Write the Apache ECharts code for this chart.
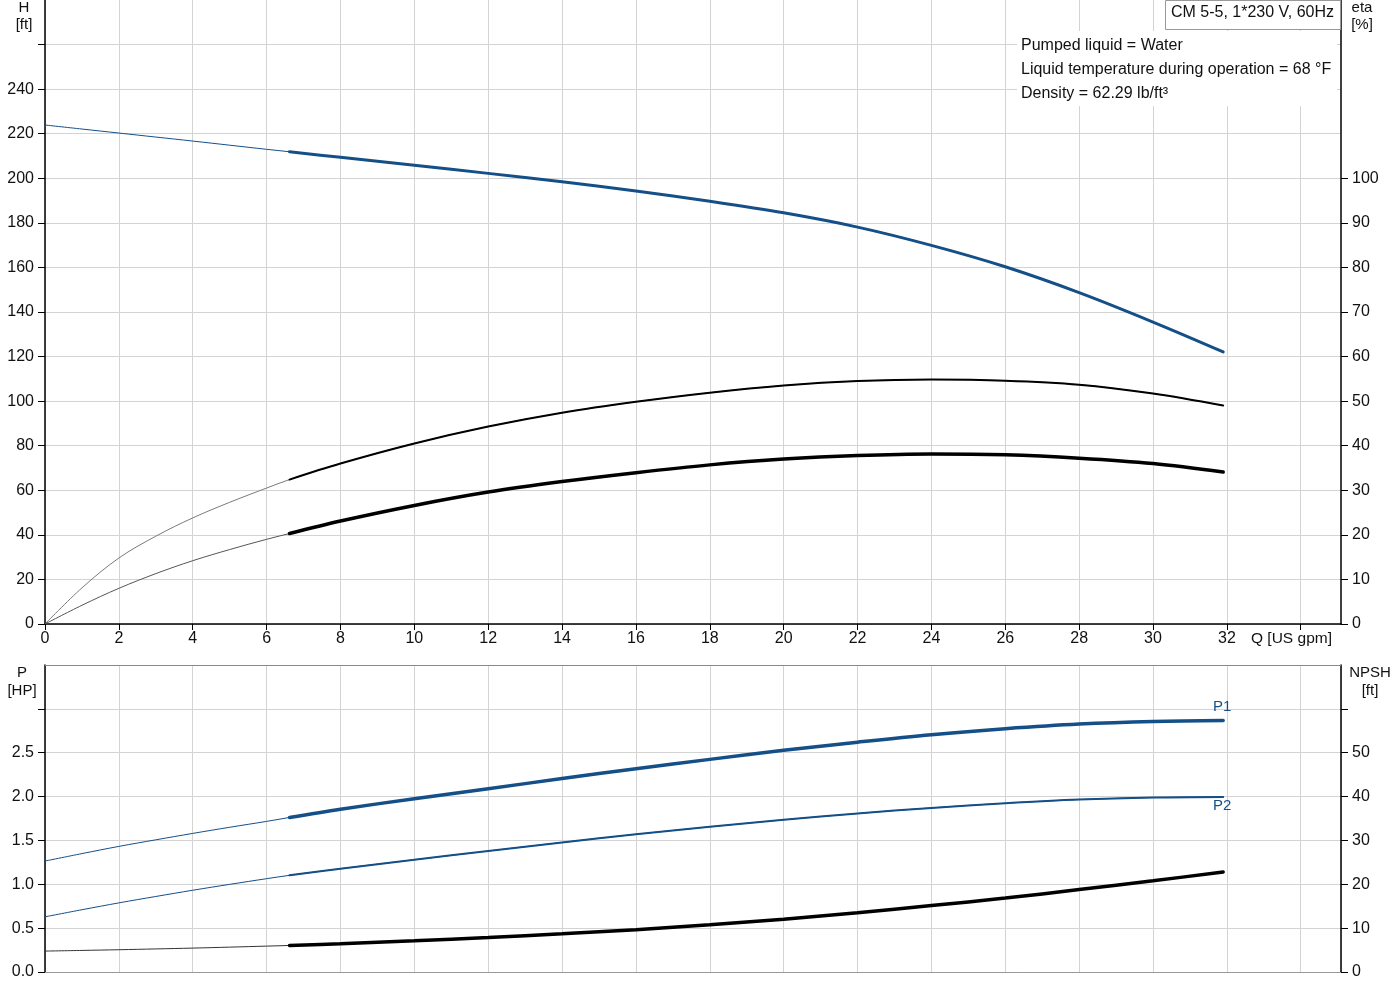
<!DOCTYPE html>
<html>
<head>
<meta charset="utf-8">
<script src="https://cdn.jsdelivr.net/npm/echarts@6/dist/echarts.min.js"></script>
<style>
html,body{margin:0;padding:0;background:#fff;}
#chart{width:1400px;height:1000px;}
</style>
</head>
<body>
<div id="chart"></div>
<script>
// Flow rate Q [US gpm] sample points (shared by all curves)
const flowQ = [0, 1, 2, 3, 4, 5, 6, 6.62, 8, 10, 12, 14, 16, 18, 20, 22, 24, 26, 28, 30, 31.9];
// Index where the thick (operating range) part of each curve begins
const splitIndex = 7;

// Head H [ft]
const headH = [223.9, 222.1, 220.3, 218.5, 216.7, 214.85, 213.0, 211.9, 209.4, 205.8, 202.2, 198.4, 194.3, 189.7, 184.5, 178.1, 169.9, 160.3, 148.7, 135.5, 122.1];
// Efficiency curves eta [%]
const etaUpper = [0, 8.1, 14.8, 19.7, 23.8, 27.3, 30.5, 32.4, 36.0, 40.5, 44.3, 47.4, 49.85, 51.9, 53.5, 54.5, 54.85, 54.6, 53.7, 51.7, 49.0];
const etaLower = [0, 4.2, 8.0, 11.3, 14.2, 16.7, 19.0, 20.3, 23.1, 26.6, 29.6, 31.95, 33.95, 35.7, 37.0, 37.8, 38.15, 37.95, 37.2, 36.0, 34.1];
// Power P [HP]
const powerP1 = [1.265, 1.35, 1.432, 1.507, 1.58, 1.65, 1.717, 1.762, 1.856, 1.975, 2.09, 2.205, 2.318, 2.424, 2.527, 2.62, 2.705, 2.773, 2.826, 2.856, 2.867];
const powerP2 = [0.629, 0.71, 0.788, 0.861, 0.932, 0.999, 1.064, 1.102, 1.178, 1.28, 1.379, 1.477, 1.570, 1.655, 1.735, 1.807, 1.871, 1.924, 1.966, 1.989, 1.996];
// NPSH [ft]
const npsh = [4.77, 4.92, 5.08, 5.26, 5.45, 5.67, 5.9, 6.05, 6.45, 7.1, 7.85, 8.7, 9.65, 10.75, 12.05, 13.5, 15.15, 16.85, 18.8, 20.8, 22.8];

// Axis tick labels
const qLabels = [0, 2, 4, 6, 8, 10, 12, 14, 16, 18, 20, 22, 24, 26, 28, 30, 32];
const qTicks = [0, 2, 4, 6, 8, 10, 12, 14, 16, 18, 20, 22, 24, 26, 28, 30, 32, 34];
const hLabels = [0, 20, 40, 60, 80, 100, 120, 140, 160, 180, 200, 220, 240];
const hTicks = [0, 20, 40, 60, 80, 100, 120, 140, 160, 180, 200, 220, 240, 260];
const etaLabels = [0, 10, 20, 30, 40, 50, 60, 70, 80, 90, 100];
const pLabels = [0, 0.5, 1.0, 1.5, 2.0, 2.5];
const pTicks = [0, 0.5, 1.0, 1.5, 2.0, 2.5, 3.0];
const npshLabels = [0, 10, 20, 30, 40, 50];
const npshTicks = [0, 10, 20, 30, 40, 50, 60];

// Texts
const pumpTitle = 'CM 5-5, 1*230 V, 60Hz';
const infoLines = ['Pumped liquid = Water', 'Liquid temperature during operation = 68 °F', 'Density = 62.29 lb/ft³'];

const BLUE = '#144f88';
const GRID = '#d3d3d3';
const FONT = '"Liberation Sans", Arial, sans-serif';

function pairs(vals, from, to) {
  const out = [];
  for (let i = from; i <= to; i++) out.push([flowQ[i], vals[i]]);
  return out;
}
function thinPart(vals) { return pairs(vals, 0, flowQ.length - 1); }
function thickPart(vals) { return pairs(vals, splitIndex, flowQ.length - 1); }
function line(name, xi, yi, data, color, width, z, endLabel) {
  const s = {
    name, type: 'line', xAxisIndex: xi, yAxisIndex: yi, data,
    smooth: 0.35, symbol: 'none', showSymbol: false, silent: true,
    lineStyle: { color, width, cap: 'round' }, itemStyle: { color },
    animation: false, z: z || 3
  };
  if (endLabel) {
    s.endLabel = Object.assign({ show: true, color: BLUE, fontSize: 15, fontFamily: FONT, align: 'center', distance: 0 }, endLabel);
  }
  return s;
}

const labelStyle = { color: '#111', fontSize: 16, fontFamily: FONT };
const blackLine = { show: true, lineStyle: { color: '#000', width: 1.5 } };

const chart = echarts.init(document.getElementById('chart'), null, { renderer: 'canvas' });
const option = {
  backgroundColor: '#fff',
  animation: false,
  grid: [
    { left: 45, right: 59, top: 0, height: 624, containLabel: false },
    { left: 45, right: 59, top: 665, height: 307, containLabel: false }
  ],
  xAxis: [
    {
      gridIndex: 0, type: 'value', min: 0, max: 35.09, interval: 2,
      axisLine: blackLine,
      axisTick: { show: true, length: 6, lineStyle: { color: '#000' }, customValues: qTicks },
      axisLabel: Object.assign({ margin: 7, customValues: qLabels }, labelStyle),
      splitLine: { show: true, lineStyle: { color: GRID, width: 1 } }
    },
    {
      gridIndex: 1, type: 'value', min: 0, max: 35.09, interval: 2,
      axisLine: { show: true, lineStyle: { color: '#999', width: 1 } },
      axisTick: { show: false },
      axisLabel: { show: false },
      splitLine: { show: true, lineStyle: { color: GRID, width: 1 } }
    }
  ],
  yAxis: [
    {
      gridIndex: 0, type: 'value', min: 0, max: 280, interval: 20, position: 'left',
      axisLine: blackLine,
      axisTick: { show: true, length: 7, lineStyle: { color: '#000' }, customValues: hTicks },
      axisLabel: Object.assign({ margin: 11, customValues: hLabels }, labelStyle),
      splitLine: { show: true, lineStyle: { color: GRID, width: 1 } }
    },
    {
      gridIndex: 0, type: 'value', min: 0, max: 140, interval: 10, position: 'right',
      axisLine: blackLine,
      axisTick: { show: true, length: 7, lineStyle: { color: '#000' }, customValues: etaLabels },
      axisLabel: Object.assign({ margin: 11, customValues: etaLabels }, labelStyle),
      splitLine: { show: false }
    },
    {
      gridIndex: 1, type: 'value', min: 0, max: 3.5, interval: 0.5, position: 'left',
      axisLine: blackLine,
      axisTick: { show: true, length: 7, lineStyle: { color: '#000' }, customValues: pTicks },
      axisLabel: Object.assign({ margin: 11, customValues: pLabels, formatter: v => v.toFixed(1) }, labelStyle),
      splitLine: { show: true, lineStyle: { color: GRID, width: 1 } }
    },
    {
      gridIndex: 1, type: 'value', min: 0, max: 70, interval: 10, position: 'right',
      axisLine: blackLine,
      axisTick: { show: true, length: 7, lineStyle: { color: '#000' }, customValues: npshTicks },
      axisLabel: Object.assign({ margin: 11, customValues: npshLabels }, labelStyle),
      splitLine: { show: false }
    }
  ],
  series: [
    line('H ext', 0, 0, thinPart(headH), BLUE, 1, 2),
    line('H', 0, 0, thickPart(headH), BLUE, 3),
    line('eta1 ext', 0, 1, thinPart(etaUpper), '#7a7a7a', 1, 2),
    line('eta1', 0, 1, thickPart(etaUpper), '#000', 2),
    line('eta2 ext', 0, 1, thinPart(etaLower), '#555', 1, 2),
    line('eta2', 0, 1, thickPart(etaLower), '#000', 3.5),
    line('P1 ext', 1, 2, thinPart(powerP1), BLUE, 1, 2),
    line('P1', 1, 2, thickPart(powerP1), BLUE, 3.5, 3, { formatter: 'P1', verticalAlign: 'bottom', offset: [-1, -6] }),
    line('P2 ext', 1, 2, thinPart(powerP2), BLUE, 1, 2),
    line('P2', 1, 2, thickPart(powerP2), BLUE, 2, 3, { formatter: 'P2', verticalAlign: 'top', offset: [-1, 1] }),
    line('NPSH ext', 1, 3, thinPart(npsh), '#333', 1, 2),
    line('NPSH', 1, 3, thickPart(npsh), '#000', 3.5)
  ],
  graphic: [
    { type: 'text', x: 24, y: -1, z: 100,
      style: { text: 'H\n[ft]', fill: '#111', font: '15px ' + FONT, align: 'center', verticalAlign: 'top', lineHeight: 17 } },
    { type: 'text', x: 1362, y: -1, z: 100,
      style: { text: 'eta\n[%]', fill: '#111', font: '15px ' + FONT, align: 'center', verticalAlign: 'top', lineHeight: 17 } },
    { type: 'text', x: 22, y: 664, z: 100,
      style: { text: 'P\n[HP]', fill: '#111', font: '15px ' + FONT, align: 'center', verticalAlign: 'top', lineHeight: 18 } },
    { type: 'text', x: 1370, y: 664, z: 100,
      style: { text: 'NPSH\n[ft]', fill: '#111', font: '15px ' + FONT, align: 'center', verticalAlign: 'top', lineHeight: 18 } },
    { type: 'text', x: 1251, y: 639, z: 100,
      style: { text: 'Q [US gpm]', fill: '#111', font: '15.5px ' + FONT, align: 'left', verticalAlign: 'middle' } },
    { type: 'line', z: 100, shape: { x1: 45, y1: 665.5, x2: 1341, y2: 665.5 }, style: { stroke: '#8a8a8a', lineWidth: 1 } },
    { type: 'rect', z: 99, shape: { x: 1017, y: 31, width: 320, height: 75 }, style: { fill: '#fff' } },
    { type: 'rect', z: 100, shape: { x: 1165.5, y: 0.5, width: 175, height: 29 }, style: { fill: '#fff', stroke: '#999', lineWidth: 1 } },
    { type: 'text', x: 1171, y: 13, z: 101,
      style: { text: pumpTitle, fill: '#111', font: '16px ' + FONT, align: 'left', verticalAlign: 'middle' } },
    { type: 'text', x: 1021, y: 46, z: 101,
      style: { text: infoLines[0], fill: '#111', font: '16px ' + FONT, align: 'left', verticalAlign: 'middle' } },
    { type: 'text', x: 1021, y: 70, z: 101,
      style: { text: infoLines[1], fill: '#111', font: '16px ' + FONT, align: 'left', verticalAlign: 'middle' } },
    { type: 'text', x: 1021, y: 94, z: 101,
      style: { text: infoLines[2], fill: '#111', font: '16px ' + FONT, align: 'left', verticalAlign: 'middle' } }
  ]
};
chart.setOption(option);
</script>
</body>
</html>
